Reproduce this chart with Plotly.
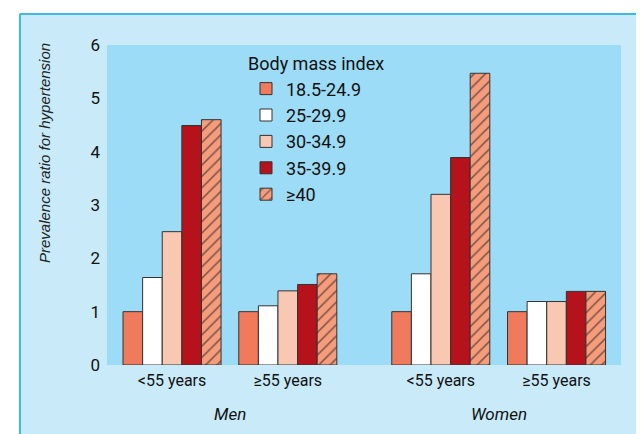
import plotly.graph_objects as go

# data
sexes = ["Men", "Women"]
age_groups = ["<55 years", "≥55 years"]
bmi_classes = ["18.5-24.9", "25-29.9", "30-34.9", "35-39.9", "≥40"]

# prevalence ratio, order: Men <55, Men >=55, Women <55, Women >=55
bmi_18_24 = [1.0, 1.0, 1.0, 1.0]
bmi_25_29 = [1.64, 1.11, 1.71, 1.19]
bmi_30_34 = [2.5, 1.39, 3.2, 1.19]
bmi_35_39 = [4.49, 1.51, 3.89, 1.38]
bmi_40_up = [4.6, 1.71, 5.47, 1.38]

series = [bmi_18_24, bmi_25_29, bmi_30_34, bmi_35_39, bmi_40_up]
colors = ["#f07a5c", "#ffffff", "#f9c8b3", "#b5121b", "#f59c7c"]

y_ticks = [0, 1, 2, 3, 4, 5, 6]
grid_vals = [1, 2, 3, 4, 5]

NARROW = "Roboto, Liberation Sans, sans-serif"
SANS = "Liberation Sans, Arial, sans-serif"

# x layout: one unit per age group, extra space between the sexes
sex_gap = 0.322
x_pos = []
tick_text = []
for s in range(len(sexes)):
    for a, age in enumerate(age_groups):
        x_pos.append(a + s * (len(age_groups) + sex_gap))
        tick_text.append(age)

fig = go.Figure()
for i, (name, vals) in enumerate(zip(bmi_classes, series)):
    pattern = dict(shape="/", fgcolor="#111111", bgcolor=colors[i], size=8, solidity=0.2) if i == 4 else None
    fig.add_trace(go.Bar(
        x=x_pos, y=vals, name=name,
        marker=dict(color=colors[i], line=dict(color="#333333", width=1),
                    pattern=pattern),
    ))

# pixel geometry of the plot area
W, H = 644, 434
L, R, T, B = 99, 31, 37, 77
pw, ph = W - L - R, H - T - B

def px_x(x):
    return (x - L) / pw

def px_y(y):
    return (H - B - y) / ph

# white strips outside the panel, then the panel border
for x0, x1, y0, y1 in [(0, W, 0, 5), (0, 11, 0, H)]:
    fig.add_shape(type="rect", xref="paper", yref="paper", layer="below",
                  x0=px_x(x0), x1=px_x(x1), y0=px_y(y1), y1=px_y(y0),
                  fillcolor="white", line=dict(width=0))
for x0, x1, y0, y1 in [(12, W, 6, 6), (12, 12, 6, H), (643, 643, 6, H)]:
    fig.add_shape(type="line", xref="paper", yref="paper",
                  x0=px_x(x0), x1=px_x(x1), y0=px_y(y0), y1=px_y(y1),
                  line=dict(color="#3bb9ea", width=2))

# sex labels under the age groups
for s, sex in enumerate(sexes):
    mid = (x_pos[2 * s] + x_pos[2 * s + 1]) / 2
    fig.add_annotation(x=mid, xref="x", y=px_y(406), yref="paper", text=sex,
                       showarrow=False, yanchor="middle",
                       font=dict(family=NARROW, size=17, color="#111111", style="italic"))

fig.add_annotation(x=px_x(36), y=px_y(145), xref="paper", yref="paper",
                   text="Prevalence ratio for hypertension", textangle=-90,
                   showarrow=False, xanchor="center", yanchor="middle",
                   font=dict(family=SANS, size=15, color="#222222", style="italic"))

fig.update_layout(
    width=W, height=H,
    margin=dict(l=L, r=R, t=T, b=B),
    paper_bgcolor="#c8eaf9",
    plot_bgcolor="#9ddcf6",
    barmode="group", bargap=0.153, bargroupgap=0,
    showlegend=True,
    legend=dict(
        x=px_x(238), y=px_y(39), xanchor="left", yanchor="top",
        bgcolor="rgba(0,0,0,0)",
        title=dict(text="Body mass index", font=dict(family=NARROW, size=18, color="#111111")),
        font=dict(family=NARROW, size=18, color="#111111"),
        tracegroupgap=0,
    ),
    xaxis=dict(
        range=[x_pos[0] - 0.562, x_pos[-1] + 0.557],
        tickvals=x_pos, ticktext=tick_text,
        showgrid=False, zeroline=False, showline=False, ticks="",
        ticklabelstandoff=4,
        tickfont=dict(family=NARROW, size=16, color="#111111"),
    ),
    yaxis=dict(
        range=[0, 6], tickvals=y_ticks,
        showgrid=False, zeroline=False, showline=False, ticks="", ticklen=0,
        ticklabelstandoff=6,
        tickfont=dict(family=NARROW, size=17, color="#111111"),
    ),
    # overlay axis only for the white grid lines between 0 and 6
    yaxis2=dict(
        range=[0, 6], tickvals=grid_vals, overlaying="y",
        showgrid=True, gridcolor="white", gridwidth=2,
        zeroline=False, showline=False, ticks="", showticklabels=False,
    ),
)

fig.write_html("out.html")
